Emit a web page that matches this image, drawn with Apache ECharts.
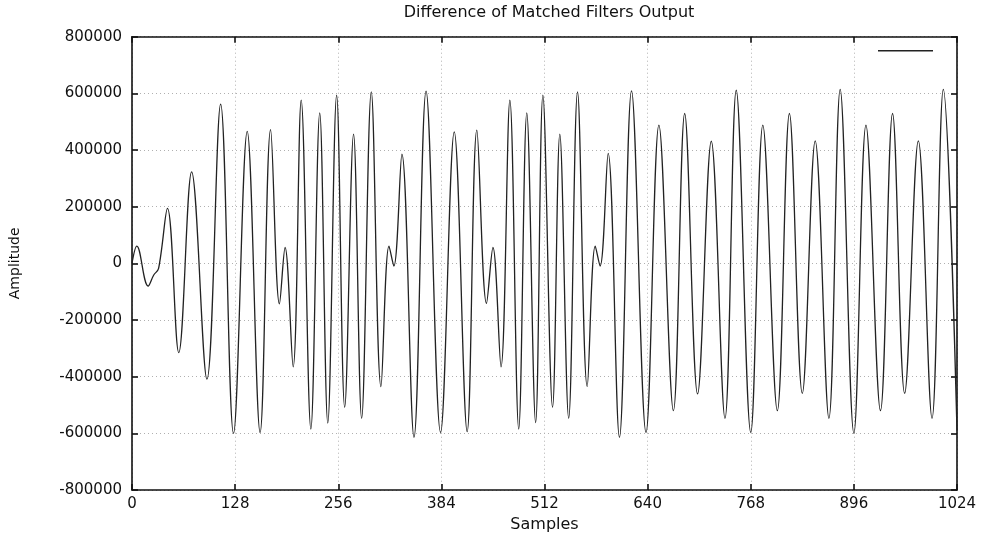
<!DOCTYPE html>
<html>
<head>
<meta charset="utf-8">
<script src="https://cdn.jsdelivr.net/npm/echarts@6/dist/echarts.min.js"></script>
<style>
  html, body { margin: 0; padding: 0; background: #fff; }
  #chart { width: 986px; height: 540px; }
</style>
</head>
<body>
<div id="chart"></div>
<script>
// Sample positions of extrema
var samples = [0, 6, 20, 27, 33, 44, 58, 74, 93, 110, 126, 143, 159, 172, 183, 190, 200,
  210, 222, 233, 243, 254, 264, 275, 285, 297, 309, 319, 325, 335, 350, 365, 383, 400,
  416, 428, 440, 448, 458, 469, 480, 490, 501, 510, 522, 531, 542, 553, 565, 575, 581, 591,
  605, 620, 638, 654, 672, 686, 702, 719, 736, 750, 768, 783, 801, 816, 832, 848, 865,
  879, 896, 911, 929, 944, 959, 976, 993, 1007, 1024];
// Amplitudes at those samples
var amplitude = [0, 61000, -80000, -41000, -18000, 194000, -315000, 323000, -409000, 562000,
  -600000, 466000, -597000, 472000, -143000, 56000, -365000,
  576000, -585000, 531000, -564000, 594000, -508000, 456000, -547000, 605000, -435000,
  61000, -9500, 385000, -614000, 608000, -597000, 464000,
  -594000, 470000, -141000, 56000, -365000, 576000, -585000, 531000, -562000, 594000,
  -508000, 456000, -547000, 605000, -435000, 61000, -9500, 388000,
  -614000, 609000, -597000, 488000, -520000, 529000, -461000, 431000, -547000, 611000,
  -597000, 488000, -520000, 529000, -459000, 432000, -547000,
  614000, -600000, 488000, -520000, 529000, -459000, 432000, -547000, 614000, -590000];

var xTicks = [0, 128, 256, 384, 512, 640, 768, 896, 1024];
var yTicks = [-800000, -600000, -400000, -200000, 0, 200000, 400000, 600000, 800000];

var chartTitle = 'Difference of Matched Filters Output';
var xName = 'Samples';
var yName = 'Amplitude';

var seriesData = samples.map(function (s, i) { return [s, amplitude[i]]; });

var FONT = 'DejaVu Sans';
var chart = echarts.init(document.getElementById('chart'), null, { renderer: 'canvas' });

var frameLine = { show: true, onZero: false, lineStyle: { color: '#111', width: 1.6 } };
var gridLine = { show: true, lineStyle: { color: '#b0b0b0', width: 1, type: [1, 3] } };
var tickStyle = { show: true, inside: true, length: 6, lineStyle: { color: '#111', width: 1.6 } };
var plain = function (v) { return String(v); };

chart.setOption({
  animation: false,
  backgroundColor: '#ffffff',
  title: {
    text: chartTitle,
    left: 544, top: 0, textAlign: 'center',
    textStyle: { fontFamily: FONT, fontSize: 16, fontWeight: 'normal', color: '#111' }
  },
  legend: {
    data: [{ name: ' ' }],
    left: 878, top: 50, padding: 0,
    itemWidth: 55, itemHeight: 1.5, itemGap: 0,
    icon: 'rect',
    textStyle: { fontSize: 1, color: 'rgba(0,0,0,0)' },
    itemStyle: { color: '#222' }
  },
  grid: { left: 131.5, right: 29, top: 36.7, bottom: 50, containLabel: false },
  xAxis: [{
    type: 'value', position: 'bottom',
    min: xTicks[0], max: xTicks[xTicks.length - 1], interval: 128,
    name: xName, nameLocation: 'middle', nameGap: 24,
    nameTextStyle: { fontFamily: FONT, fontSize: 16, color: '#111' },
    axisLine: frameLine,
    axisTick: tickStyle,
    axisLabel: { fontFamily: FONT, fontSize: 15, color: '#111', margin: 7, formatter: plain },
    splitLine: gridLine
  }, {
    type: 'value', position: 'top',
    min: xTicks[0], max: xTicks[xTicks.length - 1], interval: 128,
    axisLine: frameLine,
    axisTick: tickStyle,
    axisLabel: { show: false },
    splitLine: { show: false }
  }],
  yAxis: [{
    type: 'value', position: 'left',
    min: yTicks[0], max: yTicks[yTicks.length - 1], interval: 200000,
    name: yName, nameLocation: 'middle', nameGap: 110, nameRotate: 90,
    nameTextStyle: { fontFamily: FONT, fontSize: 14, color: '#111' },
    axisLine: frameLine,
    axisTick: tickStyle,
    axisLabel: { fontFamily: FONT, fontSize: 15, color: '#111', margin: 10, formatter: plain },
    splitLine: gridLine
  }, {
    type: 'value', position: 'right',
    min: yTicks[0], max: yTicks[yTicks.length - 1], interval: 200000,
    axisLine: frameLine,
    axisTick: tickStyle,
    axisLabel: { show: false },
    splitLine: { show: false }
  }],
  series: [{
    name: ' ',
    type: 'line',
    xAxisIndex: 0, yAxisIndex: 0,
    data: seriesData,
    showSymbol: false,
    symbol: 'none',
    smooth: 0.38,
    lineStyle: { color: '#222', width: 1.3 },
    itemStyle: { color: '#222' }
  }]
});
</script>
</body>
</html>
